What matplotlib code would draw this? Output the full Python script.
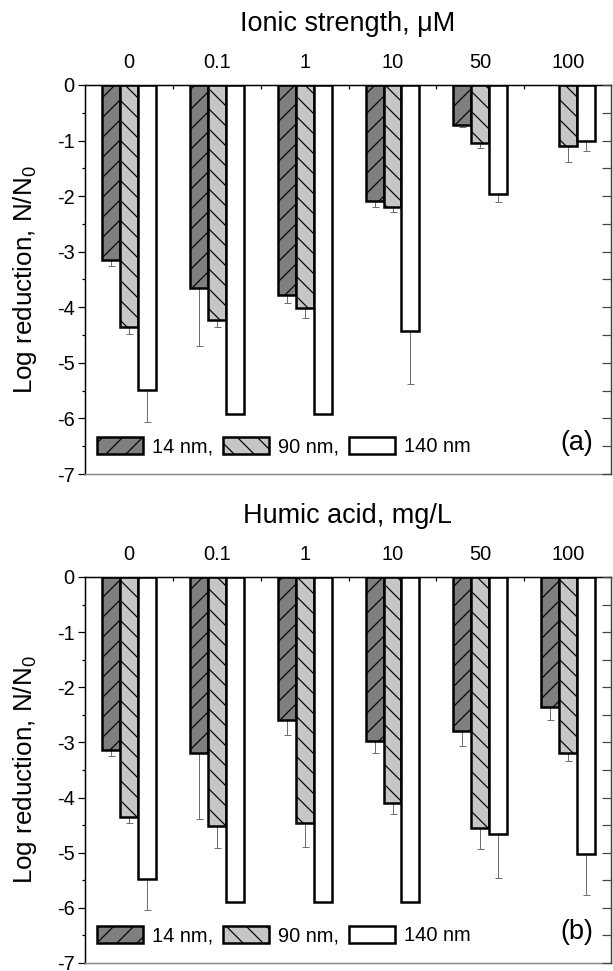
import numpy as np
import matplotlib
matplotlib.use('Agg')
import matplotlib.pyplot as plt
from matplotlib.ticker import MultipleLocator

plt.rcParams['font.family'] = ['Liberation Sans', 'DejaVu Sans']
plt.rcParams['mathtext.fontset'] = 'custom'
plt.rcParams['mathtext.rm'] = 'Liberation Sans'
plt.rcParams['mathtext.it'] = 'Liberation Sans:italic'
plt.rcParams['axes.unicode_minus'] = False

nan = np.nan

# category labels (top axis)
conc_labels = ['0', '0.1', '1', '10', '50', '100']
series_names = ['14 nm,', '90 nm,', '140 nm']

# (a) ionic strength
ionic_14 = [-3.15, -3.65, -3.77, -2.09, -0.72, nan]
ionic_14_err = [0.11, 1.05, 0.16, 0.10, 0.03, nan]
ionic_90 = [-4.36, -4.22, -4.01, -2.19, -1.05, -1.10]
ionic_90_err = [0.12, 0.14, 0.19, 0.09, 0.08, 0.29]
ionic_140 = [-5.48, -5.92, -5.92, -4.43, -1.97, -1.01]
ionic_140_err = [0.58, nan, nan, 0.95, 0.13, 0.18]

# (b) humic acid
humic_14 = [-3.13, -3.20, -2.60, -2.98, -2.80, -2.35]
humic_14_err = [0.11, 1.18, 0.26, 0.21, 0.26, 0.25]
humic_90 = [-4.35, -4.51, -4.47, -4.10, -4.55, -3.20]
humic_90_err = [0.11, 0.40, 0.43, 0.20, 0.38, 0.14]
humic_140 = [-5.47, -5.89, -5.89, -5.89, -4.66, -5.03]
humic_140_err = [0.57, nan, nan, nan, 0.79, 0.74]

fills = ['#7f7f7f', '#c6c6c6', 'white']
hatches = ['/', '\\', None]

# dpi 60 gives hatch spacing of 10 px; S converts pixel sizes to points
DPI = 60
S = 72 / DPI
plt.rcParams['hatch.linewidth'] = 1.2 * S

W, H = 613, 971
fig = plt.figure(figsize=(W / DPI, H / DPI), dpi=DPI)


def panel(top_px, bot_px, title, series, errs, tag):
    ax = fig.add_axes([84.5 / W, 1 - bot_px / H, 526.5 / W, (bot_px - top_px) / H])
    x = np.arange(len(conc_labels))
    w = 0.205
    handles = []
    for i in range(3):
        xs = x + (i - 1) * w
        v = np.array(series[i])
        e = np.array(errs[i])
        ax.errorbar(xs, v, yerr=[e, np.zeros_like(e)], fmt='none', ecolor='#707070',
                    elinewidth=1 * S, capsize=3.5 * S, capthick=1 * S, zorder=1)
        b = ax.bar(xs, v, w, color=fills[i], edgecolor='black', linewidth=2.5 * S,
                   hatch=hatches[i], zorder=2, label=series_names[i])
        handles.append(b)

    ax.set_xlim(-0.51, 5.49)
    ax.set_ylim(-7, 0)

    ax.xaxis.tick_top()
    ax.set_xticks(x)
    ax.set_xticklabels(conc_labels, fontsize=20 * S)
    ax.tick_params(axis='x', which='major', length=0, pad=13 * S)
    ax.set_xticks(x[:-1] + 0.5, minor=True)
    ax.tick_params(axis='x', which='minor', top=True, bottom=False, direction='in',
                   length=4 * S, width=1.2 * S)

    ax.set_yticks(range(-7, 1))
    ax.yaxis.set_minor_locator(MultipleLocator(0.5))
    ax.tick_params(axis='y', which='major', direction='out', length=7 * S, width=1.2 * S,
                   labelsize=20 * S, pad=3 * S)
    ax.tick_params(axis='y', which='minor', direction='out', length=3.5 * S, width=1.2 * S)

    ax.spines['top'].set_linewidth(1.5 * S)
    ax.spines['left'].set_linewidth(1.5 * S)
    ax.spines['bottom'].set_color('#8a8a8a')
    ax.spines['bottom'].set_linewidth(1.5 * S)
    ax.spines['right'].set_visible(False)

    ax2 = ax.twinx()
    ax2.set_ylim(-7, 0)
    ax2.set_yticks(range(-7, 1))
    ax2.yaxis.set_minor_locator(MultipleLocator(0.5))
    ax2.tick_params(axis='y', which='both', direction='in', length=9 * S, width=1.2 * S,
                    labelright=False, color='#444444')
    for s in ['left', 'top', 'bottom']:
        ax2.spines[s].set_visible(False)
    ax2.spines['right'].set_color('#444444')
    ax2.spines['right'].set_linewidth(1.5 * S)

    ax.legend(handles=handles, loc='center left', bbox_to_anchor=(0.024, 0.071),
              ncol=3, frameon=False, fontsize=20 * S, handlelength=2.3, handleheight=0.95,
              handletextpad=0.45, columnspacing=0.5, borderpad=0, borderaxespad=0)
    ax.text(0.966, 0.08, tag, transform=ax.transAxes, ha='right', va='center',
            fontsize=27 * S)

    fig.text((84.5 + 526.5 / 2) / W, 1 - (top_px - 61) / H, title, ha='center',
             va='center', fontsize=27 * S)
    fig.text(25 / W, 1 - (top_px + bot_px) / 2 / H, 'Log reduction, N/N$_0$',
             rotation=90, ha='center', va='center', fontsize=26 * S)


panel(85, 474, 'Ionic strength, \u03bcM',
      [ionic_14, ionic_90, ionic_140], [ionic_14_err, ionic_90_err, ionic_140_err], '(a)')
panel(577, 963, 'Humic acid, mg/L',
      [humic_14, humic_90, humic_140], [humic_14_err, humic_90_err, humic_140_err], '(b)')

fig.savefig('out.png', dpi=DPI)
